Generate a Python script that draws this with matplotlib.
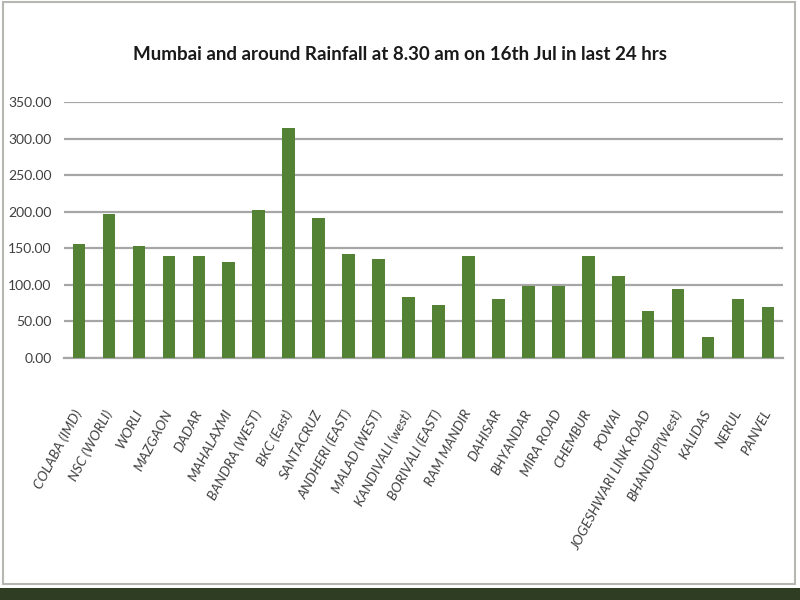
import matplotlib.pyplot as plt
from matplotlib.patches import Rectangle
from matplotlib.ticker import FormatStrFormatter

TITLE = "Mumbai and around Rainfall at 8.30 am on 16th Jul in last 24 hrs"

stations = [
    "COLABA (IMD)", "NSC (WORLI)", "WORLI", "MAZGAON", "DADAR", "MAHALAXMI",
    "BANDRA (WEST)", "BKC (East)", "SANTACRUZ", "ANDHERI (EAST)", "MALAD (WEST)",
    "KANDIVALI (west)", "BORIVALI (EAST)", "RAM MANDIR", "DAHISAR", "BHYANDAR",
    "MIRA ROAD", "CHEMBUR", "POWAI", "JOGESHWARI LINK ROAD", "BHANDUP(West)",
    "KALIDAS", "NERUL", "PANVEL",
]
rainfall_mm = [
    156, 197, 153, 139.5, 139.5, 131,
    202, 315, 192, 142, 136,
    84, 73, 139, 81, 98.5,
    98.5, 139.5, 111.6, 64.7, 95,
    28.7, 81, 70,
]
y_ticks = [0, 50, 100, 150, 200, 250, 300, 350]

BAR_GREEN = "#548235"
GRID_GREY = "#a6a6a6"

plt.rcParams["font.family"] = ["Lato", "DejaVu Sans"]

fig = plt.figure(figsize=(8, 6), dpi=100)
fig.patch.set_facecolor("white")

# frame around the slide and the dark strip at the bottom
fig.patches.append(Rectangle((0, 0), 1, 12 / 600, transform=fig.transFigure,
                             facecolor="#2f3d22", edgecolor="none", zorder=0))
fig.patches.append(Rectangle((2.5 / 800, 16 / 600), 792 / 800, 582 / 600,
                             transform=fig.transFigure, facecolor="none",
                             edgecolor="#b4b8b0", linewidth=1.5, zorder=0))

ax = fig.add_axes([64 / 800, 242 / 600, 719 / 800, 256 / 600])
x = range(len(stations))
ax.bar(x, rainfall_mm, width=0.42, color=BAR_GREEN, zorder=3)

ax.set_xlim(-0.5, len(stations) - 0.5)
ax.set_ylim(0, 350)
ax.set_yticks(y_ticks)
ax.yaxis.set_major_formatter(FormatStrFormatter("%.2f"))
ax.grid(axis="y", color=GRID_GREY, linewidth=1.6, zorder=0)
for side in ["top", "right", "left"]:
    ax.spines[side].set_visible(False)
ax.spines["bottom"].set_color(GRID_GREY)
ax.spines["bottom"].set_linewidth(1.6)
ax.tick_params(axis="both", length=0, colors="#404040")
ax.tick_params(axis="y", labelsize=10, pad=9)
ax.set_xticks(list(x))
ax.set_xticklabels(stations, rotation=62, ha="right", va="center",
                   rotation_mode="anchor",
                   fontsize=10, style="italic", color="#404040")
ax.tick_params(axis="x", pad=38)

fig.text(0.5, 1 - 55 / 600, TITLE, ha="center", va="center",
         fontsize=13.5, fontweight="bold", color="#1a1a1a")

fig.savefig("out.png", dpi=100)
